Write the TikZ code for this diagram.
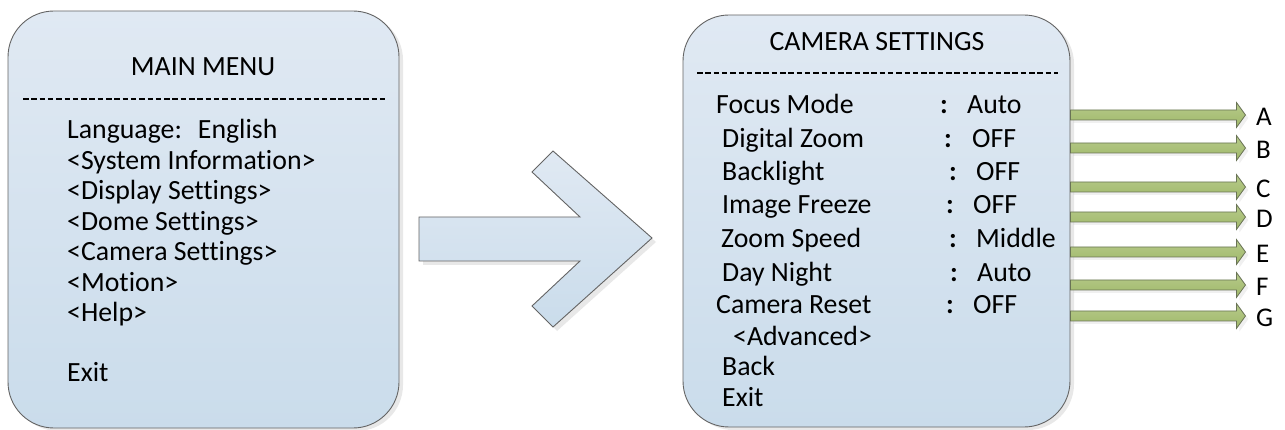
\documentclass[tikz,border=0pt]{standalone}
\usepackage{fontspec}
\setmainfont{Carlito}[Ligatures={NoCommon}]
\usetikzlibrary{shadows,positioning}
\definecolor{boxtop}{RGB}{224,233,243}
\definecolor{boxbot}{RGB}{202,220,235}
\definecolor{boxline}{RGB}{100,100,100}
\definecolor{grtop}{RGB}{182,202,138}
\definecolor{grbot}{RGB}{160,184,106}
\definecolor{grline}{RGB}{105,115,85}

\begin{document}
\begin{tikzpicture}[x=1pt, y=-1pt,
  menubox/.style={draw=boxline, line width=0.9pt, rounded corners=46pt,
    top color=boxtop, bottom color=boxbot,
    drop shadow={opacity=0.18, shadow xshift=4pt, shadow yshift=-3pt}},
  bigarrow/.style={draw=boxline, line width=0.9pt, top color=boxtop, bottom color=boxbot,
    drop shadow={opacity=0.18, shadow xshift=4pt, shadow yshift=-4pt}},
  fatarrow/.style={draw=grline, line width=0.8pt, top color=grtop, bottom color=grbot,
    drop shadow={opacity=0.12, shadow xshift=3pt, shadow yshift=-3pt}},
  sepline/.style={line width=1.8pt, dash pattern=on 5.5pt off 2.8pt},
  menutitle/.style={anchor=base, inner sep=0pt, font=\fontsize{27.8}{31}\selectfont},
  item/.style={anchor=base west, inner sep=0pt, font=\fontsize{27.8}{31}\selectfont},
  sep/.style={anchor=base, inner sep=0pt, font=\fontsize{27.8}{31}\bfseries},
  letter/.style={anchor=west, inner sep=0pt, font=\fontsize{27}{30}\selectfont}]

  \useasboundingbox (0,0) rectangle (1285,430);

  % Define nodes
  \node[menubox, minimum width=391pt, minimum height=417pt] (main) at (203.5,219.5) {};
  \node[menubox, minimum width=387pt, minimum height=412pt] (cam) at (876.5,221) {};

  \node[menutitle] (maintitle) at (203,76) {MAIN MENU};
  \node[menutitle] (camtitle) at (877,50.7) {CAMERA SETTINGS};
  \draw[sepline] (23,99) -- (385,99);
  \draw[sepline] (697,73) -- (1058,73);

  % Main menu entries
  \foreach \txt/\by [count=\i] in {{Language:\hspace{16pt}English}/139, <System Information>/170,
      <Display Settings>/200, <Dome Settings>/231, <Camera Settings>/261,
      <Motion>/291.7, <Help>/321.7, Exit/381.7}
    \node[item] (menu\i) at (67,\by) {\txt};

  % Camera settings entries
  \foreach \name/\nx/\cx/\val/\vx/\by [count=\i] in {Focus Mode/716/944/Auto/967/114,
      Digital Zoom/722/948/OFF/972/147.3, Backlight/722/953/OFF/976/180.7,
      Image Freeze/722/950/OFF/973/214, Zoom Speed/721/953/Middle/976/247.3,
      Day Night/722/954/Auto/977/281.7, Camera Reset/716/950/OFF/973/314} {
    \node[item] (set\i) at (\nx,\by) {\name};
    \node[sep] (colon\i) at (\cx,\by) {:};
    \node[item] (val\i) at (\vx,\by) {\val};
  }
  \node[item] (adv) at (733,345) {<Advanced>};
  \node[item] (back) at (722,375) {Back};
  \node[item] (exit) at (722,406) {Exit};

  % Draw arrows
  \path[bigarrow] (419,217) -- (580,217) -- (532,172) -- (553,151) -- (652,238)
    -- (553,327) -- (532,306) -- (580,261) -- (419,261) -- cycle;

  \foreach \l/\y in {A/115, B/148, C/187, D/217, E/252, F/285, G/316} {
    \node[letter] (lbl\l) at (1256,\y+2) {\l};
    \coordinate (tail\l) at (cam.east |- 0,\y);
    \path[fatarrow] (tail\l) ++(0,-5) -- ++(166,0) -- ++(0,-7.5) -- ++(9,12.5)
      -- ++(-9,12.5) -- ++(0,-7.5) -- ++(-166,0) -- cycle;
  }
\end{tikzpicture}
\end{document}
